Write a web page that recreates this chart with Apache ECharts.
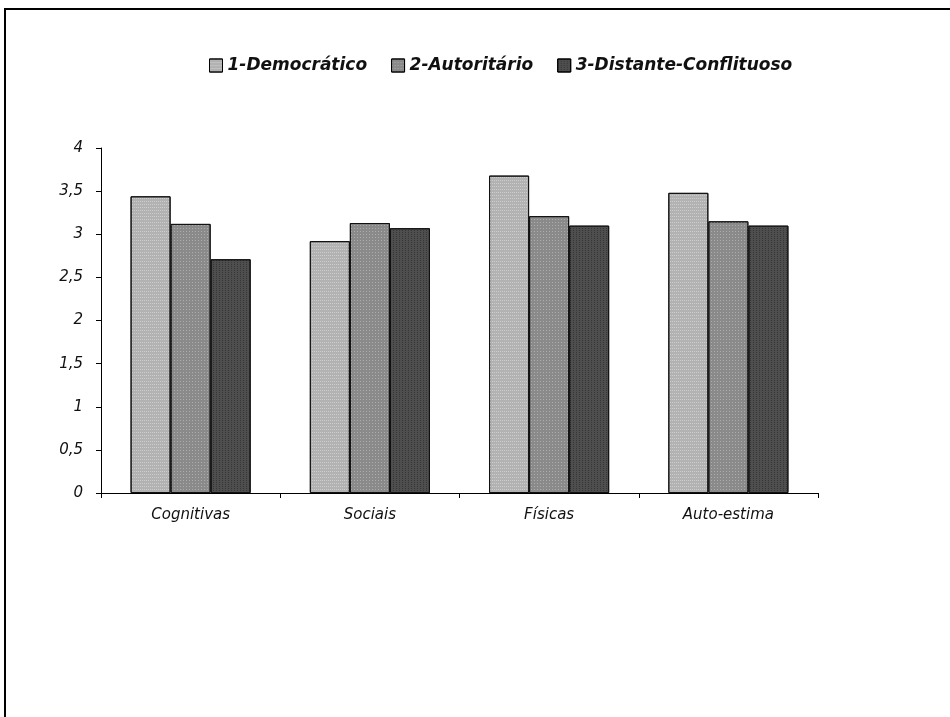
<!DOCTYPE html>
<html><head><meta charset="utf-8">
<script src="https://cdn.jsdelivr.net/npm/echarts@6/dist/echarts.min.js"></script>
<style>html,body{margin:0;padding:0;background:#fff}#c{width:950px;height:717px}</style>
</head><body><div id="c"></div>
<script>
const categories = ['Cognitivas', 'Sociais', 'Físicas', 'Auto-estima'];
const seriesNames = ['1-Democrático', '2-Autoritário', '3-Distante-Conflituoso'];
const democratico = [3.44, 2.92, 3.68, 3.48];
const autoritario = [3.12, 3.13, 3.21, 3.15];
const distante = [2.71, 3.07, 3.10, 3.10];
const yTicks = [0, 0.5, 1, 1.5, 2, 2.5, 3, 3.5, 4];

const colors = ['#b2b2b2', '#8a8a8a', '#4e4e4e'];
const decals = [
  {symbol: 'rect', symbolSize: 1, dashArrayX: [1, 1], dashArrayY: [1, 2], color: 'rgba(255,255,255,0.35)', rotation: 0},
  {symbol: 'rect', symbolSize: 1, dashArrayX: [1, 2], dashArrayY: [1, 2], color: 'rgba(255,255,255,0.3)', rotation: 0},
  {symbol: 'rect', symbolSize: 1, dashArrayX: [1, 2], dashArrayY: [1, 1], color: 'rgba(0,0,0,0.3)', rotation: 0}
];
const values = [democratico, autoritario, distante];
const font = 'DejaVu Sans, sans-serif';

const chart = echarts.init(document.getElementById('c'), null, {renderer: 'canvas'});
chart.setOption({
  animation: false,
  backgroundColor: '#fff',
  graphic: [{
    type: 'rect', shape: {x: 5, y: 9, width: 960, height: 720},
    style: {fill: 'none', stroke: '#000', lineWidth: 2}, silent: true
  }],
  legend: {
    top: 52, left: 204, itemWidth: 13, itemHeight: 13, itemGap: 24,
    icon: 'rect',
    textStyle: {fontFamily: font, fontStyle: 'italic', fontWeight: 'bold', fontSize: 17, color: '#111'},
    data: seriesNames.map((n, i) => ({name: n, itemStyle: {borderColor: '#000', borderWidth: 1, decal: decals[i]}}))
  },
  grid: {left: 101, right: 132, top: 148, bottom: 224, containLabel: false},
  xAxis: {
    type: 'category', data: categories,
    axisLine: {lineStyle: {color: '#000', width: 1}},
    axisTick: {show: true, length: 5, lineStyle: {color: '#000'}, alignWithLabel: false},
    axisLabel: {fontFamily: font, fontStyle: 'italic', fontSize: 15, color: '#111', margin: 15}
  },
  yAxis: {
    type: 'value', min: 0, max: 4, interval: 0.5,
    splitLine: {show: false},
    axisLine: {show: true, lineStyle: {color: '#000', width: 1}},
    axisTick: {show: true, length: 5, lineStyle: {color: '#000'}},
    axisLabel: {fontFamily: font, fontStyle: 'italic', fontSize: 15, color: '#111', margin: 18,
      formatter: v => yTicks.includes(v) ? String(v).replace('.', ',') : ''}
  },
  series: values.map((arr, i) => ({
    name: seriesNames[i], type: 'bar', data: arr,
    barGap: '0%', barCategoryGap: '33%',
    itemStyle: {color: colors[i], borderColor: '#111', borderWidth: 1, decal: decals[i]}
  }))
});
</script></body></html>
